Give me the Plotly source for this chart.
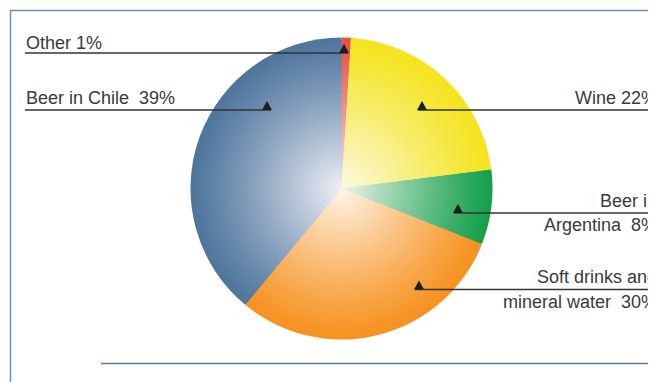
import plotly.graph_objects as go

# ---- data ----
categories = ["Other", "Wine", "Beer in Argentina", "Soft drinks and mineral water", "Beer in Chile"]
shares = [1, 22, 8, 30, 39]
label_lines = [
    ["Other 1%"],
    ["Wine 22%"],
    ["Beer in", "Argentina  8%"],
    ["Soft drinks and", "mineral water  30%"],
    ["Beer in Chile  39%"],
]
edge_colors = [(232, 80, 72), (245, 228, 32), (22, 160, 76), (246, 146, 32), (80, 118, 158)]
center_colors = [(250, 235, 232), (252, 250, 230), (238, 246, 238), (255, 246, 236), (240, 241, 248)]

# ---- layout constants (page pixels) ----
PAGE_W, PAGE_H = 656, 382
OFF = 8  # default page body margin
W, H = PAGE_W - OFF, PAGE_H - OFF
CX, CY, R = 341.5, 188.5, 151
N_LAYERS = 48
FONT = dict(family="Liberation Sans, Arial, sans-serif", size=18, color="#3a3a3a")

# label placement: side, line y, triangle x, text mid-y per line
label_layout = [
    ("left", 53, 344, [42.5]),
    ("right", 110, 422, [98]),
    ("right", 213, 458, [201.5, 224.5]),
    ("right", 289.5, 419, [277.3, 301.5]),
    ("left", 110, 267, [98]),
]


def px(x):
    return (x - OFF) / W


def py(y):
    return 1 - (y - OFF) / H


def mix(c1, c2, t):
    return "rgb(%d,%d,%d)" % tuple(round(a + (b - a) * t) for a, b in zip(c1, c2))


fig = go.Figure()
for k in range(N_LAYERS):
    r = 1 - k / N_LAYERS
    t = (1 - r) ** 1.15
    rr = R * r
    fig.add_trace(go.Pie(
        labels=categories, values=shares, sort=False, direction="clockwise", rotation=0,
        marker=dict(colors=[mix(e, c, t) for e, c in zip(edge_colors, center_colors)],
                    line=dict(width=0)),
        textinfo="none", hoverinfo="skip", showlegend=False,
        domain=dict(x=[px(CX - rr), px(CX + rr)], y=[py(CY + rr), py(CY - rr)]),
    ))

shapes = []
annotations = []
LEFT_X, RIGHT_X = 24, 659
for lines, (side, ly, tx, mids) in zip(label_lines, label_layout):
    if side == "left":
        x0, x1 = LEFT_X + 1, tx + 4
    else:
        x0, x1 = tx - 4, PAGE_W + 5
    shapes.append(dict(type="line", xref="paper", yref="paper", x0=px(x0), x1=px(x1),
                       y0=py(ly), y1=py(ly), line=dict(color="#333333", width=1.3), layer="above"))
    path = "M %f %f L %f %f L %f %f Z" % (px(tx - 5), py(ly), px(tx + 5), py(ly), px(tx), py(ly - 9))
    shapes.append(dict(type="path", xref="paper", yref="paper", path=path,
                       fillcolor="#1e1e1e", line=dict(width=0), layer="above"))
    for txt, my in zip(lines, mids):
        annotations.append(dict(
            text=txt, xref="paper", yref="paper", showarrow=False,
            x=px(LEFT_X if side == "left" else RIGHT_X), y=py(my),
            xanchor="left" if side == "left" else "right", yanchor="middle",
            font=FONT,
        ))

# frame lines
frame_color = "#6d8fbf"
shapes += [
    dict(type="line", xref="paper", yref="paper", x0=px(10), x1=px(PAGE_W + 2), y0=py(10.5), y1=py(10.5),
         line=dict(color=frame_color, width=1.5)),
    dict(type="line", xref="paper", yref="paper", x0=px(10.5), x1=px(10.5), y0=py(10), y1=py(PAGE_H + 2),
         line=dict(color=frame_color, width=1.5)),
    dict(type="line", xref="paper", yref="paper", x0=px(101), x1=px(PAGE_W + 2), y0=py(363.5), y1=py(363.5),
         line=dict(color="#5b7a9c", width=1.5)),
]

fig.update_layout(
    width=W, height=H, margin=dict(l=0, r=0, t=0, b=0),
    paper_bgcolor="white", plot_bgcolor="white",
    shapes=shapes, annotations=annotations,
)
fig.write_html("out.html")
